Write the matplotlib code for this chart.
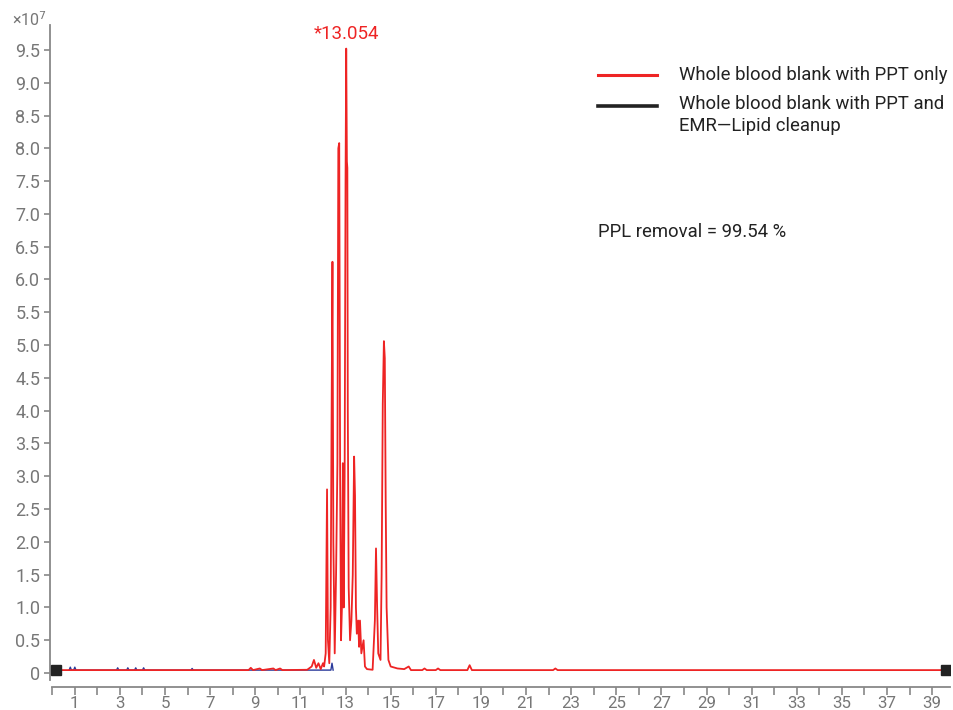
import matplotlib.pyplot as plt
from matplotlib.lines import Line2D
from matplotlib.ticker import MultipleLocator, FuncFormatter

plt.rcParams['font.family'] = ['Roboto', 'DejaVu Sans']

# retention time (min) and intensity (x1e7) for PPT only trace
ppt_time = [0.15, 8.7, 8.8, 8.9, 9.2, 9.3, 9.8, 9.9, 10.1, 10.2, 11.3, 11.5, 11.6, 11.7, 11.8, 11.9,
            12.0, 12.05, 12.12, 12.18, 12.22, 12.28, 12.34, 12.38, 12.42, 12.46, 12.52,
            12.58, 12.64, 12.68, 12.72, 12.76, 12.80, 12.84, 12.88, 12.92,
            12.96, 13.0, 13.03, 13.06, 13.08, 13.10, 13.14, 13.2,
            13.26, 13.32, 13.38, 13.42, 13.46, 13.5, 13.56, 13.6, 13.64, 13.7, 13.8, 13.86, 13.95,
            14.2, 14.3, 14.35, 14.4, 14.45, 14.55, 14.6, 14.65, 14.7, 14.74, 14.78, 14.82, 14.9, 15.0,
            15.3, 15.6, 15.8, 15.9, 16.4, 16.5, 16.6, 17.0, 17.1, 17.2, 18.4, 18.5, 18.6,
            22.2, 22.3, 22.4, 39.63]
ppt_int = [0.045, 0.045, 0.08, 0.045, 0.07, 0.045, 0.07, 0.045, 0.07, 0.045, 0.05, 0.1, 0.2, 0.08, 0.15, 0.06,
           0.15, 0.1, 0.3, 2.8, 0.5, 0.15, 1.0, 3.8, 6.27, 2.0, 0.3,
           1.5, 3.2, 8.0, 8.08, 3.0, 0.5, 1.0, 3.2, 1.0,
           3.0, 7.5, 9.52, 7.8, 7.7, 4.0, 1.3, 0.5,
           0.8, 1.5, 3.3, 2.7, 1.0, 0.6, 0.8, 0.4, 0.8, 0.3, 0.5, 0.1, 0.06,
           0.05, 0.8, 1.9, 1.0, 0.3, 0.2, 1.5, 4.1, 5.06, 4.8, 2.6, 1.0, 0.2, 0.1,
           0.07, 0.06, 0.1, 0.045, 0.045, 0.07, 0.045, 0.045, 0.07, 0.045, 0.045, 0.12, 0.045,
           0.045, 0.07, 0.045, 0.045]

# EMR-Lipid trace (stays at baseline)
emr_time = [0.15, 39.63]
emr_int = [0.045, 0.045]

# small blue features near baseline
blue_time = [0.75, 0.8, 0.85, 0.95, 1.0, 1.05, 2.85, 2.9, 2.95, 3.3, 3.35, 3.4, 3.65, 3.7, 3.75,
             4.0, 4.05, 4.1, 6.15, 6.2, 6.25, 12.35, 12.4, 12.45]
blue_int = [0.045, 0.09, 0.045, 0.045, 0.09, 0.045, 0.045, 0.08, 0.045, 0.045, 0.08, 0.045,
            0.045, 0.08, 0.045, 0.045, 0.08, 0.045, 0.045, 0.07, 0.045, 0.045, 0.15, 0.045]

red = '#ee2424'
dark = '#222222'

fig = plt.figure(figsize=(9.54, 7.10), dpi=100)
ax = fig.add_axes([0.0524, 0.0428, 0.9436, 0.922])

ax.plot(blue_time, blue_int, color='#2b3a9a', lw=1.0, zorder=2)
ax.plot(ppt_time, ppt_int, color=red, lw=1.3, zorder=3)
ax.plot(emr_time, emr_int, color=dark, lw=0, marker='s', markersize=7, zorder=4)

ax.text(13.054, 9.6, '*13.054', color=red, fontsize=13.5, ha='center', va='bottom')
ax.text(24.2, 6.72, 'PPL removal = 99.54 %', color=dark, fontsize=13.3, va='center')

# legend drawn by hand so the black key sits on the first text line
W, H = 954, 710
fig.add_artist(Line2D([598 / W, 657 / W], [1 - 75 / H, 1 - 75 / H], color=red, lw=2.2))
fig.add_artist(Line2D([598 / W, 657 / W], [1 - 106 / H, 1 - 106 / H], color=dark, lw=2.6))
fig.text(679 / W, 1 - 75 / H, 'Whole blood blank with PPT only', color=dark, fontsize=13.3, va='center')
fig.text(679 / W, 1 - 104 / H, 'Whole blood blank with PPT and', color=dark, fontsize=13.3, va='center')
fig.text(679 / W, 1 - 126 / H, 'EMR\u2014Lipid cleanup', color=dark, fontsize=13.3, va='center')

ax.set_xlim(-0.1, 39.8)
ax.set_ylim(-0.1, 9.88)

ax.yaxis.set_major_locator(MultipleLocator(0.5))
ax.yaxis.set_major_formatter(FuncFormatter(lambda v, p: '0' if abs(v) < 1e-9 else f'{v:.1f}'))
ax.xaxis.set_major_locator(MultipleLocator(2, offset=1))
ax.xaxis.set_minor_locator(MultipleLocator(1))

for s in ['top', 'right']:
    ax.spines[s].set_visible(False)
for s in ['left', 'bottom']:
    ax.spines[s].set_color('#888888')
    ax.spines[s].set_linewidth(1.3)
ax.spines['bottom'].set_position(('outward', 5))
ax.spines['bottom'].set_bounds(0, 39.8)

ax.tick_params(axis='y', colors='#888888', labelcolor='#777777', labelsize=13, length=4, width=1.2, pad=3)
ax.tick_params(axis='x', which='both', colors='#888888', labelcolor='#777777', labelsize=12.2,
               length=5.5, width=1.2, pad=1)

fig.text(0.013, 0.972, '\u00d710$^7$', color='#777777', fontsize=11.5, va='center')

fig.savefig('out.png', dpi=100)
